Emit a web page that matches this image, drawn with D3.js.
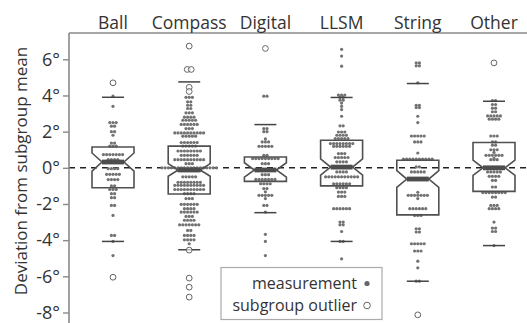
<!DOCTYPE html>
<html>
<head>
<meta charset="utf-8">
<script src="https://cdn.jsdelivr.net/npm/d3@7"></script>
<style>
  body { margin: 0; background: #fff; }
  svg { display: block; font-family: "Open Sans", "DejaVu Sans", sans-serif; }
</style>
</head>
<body>
<svg id="chart" width="527" height="323"></svg>
<script>
// Measurement methods
const categories = ["Ball", "Compass", "Digital", "LLSM", "String", "Other"];

// Deviations from subgroup mean (degrees): [value, number of measurements at that value]
const ballPoints = [[3.96,1],[3.4,1],[2.5,3],[2.3,2],[2.0,2],[1.8,1],[1.37,2],[1.2,3],[0.73,7],[0.45,4],[0.32,6],
  [-0.05,4],[-0.36,5],[-0.65,4],[-1.0,2],[-1.2,3],[-1.43,2],[-1.65,2],[-2.08,2],[-2.63,1],[-3.74,2],[-4.07,1],[-4.85,1]];
const compassPoints = [[3.9,3],[3.65,2],[3.46,2],[3.28,2],[3.04,3],[2.8,4],[2.63,5],[2.4,6],[2.17,3],[1.93,10],[1.75,5],
  [1.4,6],[1.2,5],[0.93,8],[0.69,6],[0.45,10],[0.23,3],[0.0,18],[-0.15,8],[-0.5,5],[-0.8,8],[-0.97,10],[-1.2,10],
  [-1.43,4],[-1.7,3],[-2.02,6],[-2.26,4],[-2.45,6],[-2.69,3],[-2.9,4],[-3.15,7],[-3.46,2],[-3.74,4],[-3.98,4],[-4.2,1]];
const digitalPoints = [[3.96,2],[2.17,2],[2.0,2],[1.6,1],[1.43,3],[1.19,5],[0.69,2],[0.51,9],[0.23,3],[-0.1,6],[-0.38,3],
  [-0.64,7],[-0.88,4],[-1.15,2],[-1.33,1],[-1.52,5],[-1.7,1],[-2.08,2],[-2.45,1],[-3.68,1],[-4.07,1],[-4.85,1]];
const llsmPoints = [[6.55,1],[6.18,1],[5.62,1],[4.02,3],[3.89,2],[3.74,2],[3.58,1],[3.4,1],[3.22,1],[2.85,1],[2.32,2],
  [1.98,3],[1.8,4],[1.62,5],[1.34,8],[1.19,6],[0.79,3],[0.57,5],[0.33,4],[0.05,6],[-0.23,4],[-0.5,11],[-0.88,6],
  [-1.1,4],[-1.34,3],[-1.58,3],[-2.26,6],[-3.0,2],[-3.15,2],[-3.52,1],[-4.07,2],[-5.03,1]];
const stringPoints = [[5.8,2],[5.64,2],[4.7,1],[3.46,2],[3.33,2],[2.85,1],[2.5,1],[1.76,5],[1.43,3],[0.82,1],[0.48,10],
  [0.05,2],[-0.23,5],[-0.62,6],[-1.35,1],[-1.52,7],[-1.7,1],[-2.26,6],[-2.63,3],[-3.37,2],[-3.55,2],[-4.2,5],
  [-4.6,3],[-5.16,1],[-5.53,1],[-6.27,2]];
const otherPoints = [[3.72,2],[3.5,2],[3.3,2],[3.1,2],[2.87,5],[2.69,4],[1.76,3],[1.43,2],[1.25,2],[1.0,3],[0.85,1],
  [0.69,6],[0.52,1],[0.45,3],[0.0,6],[-0.23,5],[-0.47,4],[-0.7,2],[-1.06,2],[-1.37,8],[-1.62,2],[-2.08,3],
  [-2.26,4],[-3.0,1],[-3.33,2],[-3.52,2],[-4.3,1]];
const pointsByCategory = [ballPoints, compassPoints, digitalPoints, llsmPoints, stringPoints, otherPoints];

// Subgroup outliers (degrees)
const ballOutliers = [4.7, -6.05];
const compassOutliers = [6.73, 5.44, 5.44, 4.45, 4.22, -4.55, -6.1, -6.6, -7.15];
const digitalOutliers = [6.6];
const llsmOutliers = [];
const stringOutliers = [-8.13];
const otherOutliers = [5.8];
const outliersByCategory = [ballOutliers, compassOutliers, digitalOutliers, llsmOutliers, stringOutliers, otherOutliers];

// Box statistics (degrees)
const q1 = [-1.1, -1.45, -0.75, -1.0, -2.6, -1.3];
const medians = [0.32, -0.12, -0.12, 0.04, -0.62, 0.0];
const q3 = [1.15, 1.2, 0.6, 1.52, 0.42, 1.4];
const notchHalf = [0.5, 0.35, 0.4, 0.45, 0.46, 0.42];
const whiskerLow = [-4.07, -4.53, -2.48, -4.07, -6.27, -4.3];
const whiskerHigh = [3.9, 4.75, 2.39, 3.89, 4.66, 3.68];

const yTicks = [-8, -6, -4, -2, 0, 2, 4, 6];

const svg = d3.select("#chart");
const W = 527, H = 323;
const plotLeft = 69, plotTop = 33;

const x = d3.scalePoint().domain(categories).range([113, 494]);
const y = d3.scaleLinear().domain([-8, 6]).range([312.5, 59.3]);

const boxHalf = 21, notchNarrow = 11, capHalf = 11;
const dotR = 1.6, dotStep = 3.2;

// Zero reference line
svg.append("line")
  .attr("x1", plotLeft).attr("x2", W)
  .attr("y1", y(0)).attr("y2", y(0))
  .attr("stroke", "#222").attr("stroke-width", 1.6)
  .attr("stroke-dasharray", "6,5");

// Measurements laid out as centred horizontal rows
const dotsG = svg.append("g");
categories.forEach((c, i) => {
  const cx = x(c);
  pointsByCategory[i].forEach(([v, n]) => {
    for (let k = 0; k < n; k++) {
      dotsG.append("circle")
        .attr("cx", cx + (k - (n - 1) / 2) * dotStep)
        .attr("cy", y(v))
        .attr("r", dotR)
        .attr("fill", "#727272");
    }
  });
});

// Notched boxes, medians and whisker caps
const boxG = svg.append("g");
categories.forEach((c, i) => {
  const cx = x(c);
  const yq3 = y(q3[i]), yq1 = y(q1[i]), ym = y(medians[i]);
  const ynh = y(medians[i] + notchHalf[i]), ynl = y(medians[i] - notchHalf[i]);
  const p = d3.path();
  p.moveTo(cx - boxHalf, yq3);
  p.lineTo(cx + boxHalf, yq3);
  p.lineTo(cx + boxHalf, ynh);
  p.lineTo(cx + notchNarrow, ym);
  p.lineTo(cx + boxHalf, ynl);
  p.lineTo(cx + boxHalf, yq1);
  p.lineTo(cx - boxHalf, yq1);
  p.lineTo(cx - boxHalf, ynl);
  p.lineTo(cx - notchNarrow, ym);
  p.lineTo(cx - boxHalf, ynh);
  p.closePath();
  boxG.append("path").attr("d", p.toString())
    .attr("fill", "none").attr("stroke", "#505050").attr("stroke-width", 1.6);
  boxG.append("rect")
    .attr("x", cx - notchNarrow).attr("y", ym - 2.4)
    .attr("width", notchNarrow * 2).attr("height", 4.8)
    .attr("fill", "#4d4d4d");
  [whiskerLow[i], whiskerHigh[i]].forEach(v => {
    boxG.append("line")
      .attr("x1", cx - capHalf).attr("x2", cx + capHalf)
      .attr("y1", y(v)).attr("y2", y(v))
      .attr("stroke", "#444").attr("stroke-width", 1.5);
  });
});

// Subgroup outliers as open circles; equal values are set side by side
const outG = svg.append("g");
categories.forEach((c, i) => {
  const cx = x(c);
  const vals = outliersByCategory[i];
  const counts = d3.rollup(vals, v => v.length, d => d);
  const seen = new Map();
  vals.forEach(v => {
    const n = counts.get(v);
    const k = seen.get(v) || 0;
    seen.set(v, k + 1);
    outG.append("circle")
      .attr("cx", cx + (k - (n - 1) / 2) * 4)
      .attr("cy", y(v))
      .attr("r", 2.9)
      .attr("fill", "#fff").attr("fill-opacity", 0.6)
      .attr("stroke", "#666").attr("stroke-width", 1);
  });
});

// Axis frame
svg.append("line").attr("x1", plotLeft).attr("x2", plotLeft).attr("y1", plotTop).attr("y2", H)
  .attr("stroke", "#8a8a8a").attr("stroke-width", 1.6);
svg.append("line").attr("x1", plotLeft).attr("x2", W).attr("y1", plotTop).attr("y2", plotTop)
  .attr("stroke", "#8a8a8a").attr("stroke-width", 1.6);

// Y axis
const yAxis = d3.axisLeft(y).tickValues(yTicks).tickSize(6).tickPadding(3)
  .tickFormat(d => `${d}°`);
const yg = svg.append("g").attr("transform", `translate(${plotLeft},0)`).call(yAxis);
yg.select(".domain").remove();
yg.selectAll(".tick line").attr("stroke", "#8a8a8a").attr("stroke-width", 1.4);
yg.selectAll(".tick text").attr("fill", "#333").style("font-size", "18px")
  .style("font-family", "'Open Sans', sans-serif");

// Category labels along the top
svg.append("g").selectAll("text").data(categories).join("text")
  .attr("x", d => x(d)).attr("y", 29)
  .attr("text-anchor", "middle")
  .attr("fill", "#333").style("font-size", "17.5px")
  .text(d => d);

// Y axis title
svg.append("text")
  .attr("transform", `translate(27,${171}) rotate(-90)`)
  .attr("text-anchor", "middle")
  .attr("fill", "#333").style("font-size", "17px")
  .text("Deviation from subgroup mean");

// Legend
const lg = svg.append("g");
lg.append("rect").attr("x", 221).attr("y", 267.5).attr("width", 161).attr("height", 52)
  .attr("fill", "#fff").attr("stroke", "#aaa").attr("stroke-width", 1.2);
lg.append("text").attr("x", 357).attr("y", 289).attr("text-anchor", "end")
  .attr("fill", "#333").style("font-size", "16px").text("measurement");
lg.append("circle").attr("cx", 367).attr("cy", 283.5).attr("r", 2.6).attr("fill", "#666");
lg.append("text").attr("x", 357).attr("y", 311).attr("text-anchor", "end")
  .attr("fill", "#333").style("font-size", "16px").text("subgroup outlier");
lg.append("circle").attr("cx", 367).attr("cy", 305.5).attr("r", 3.3)
  .attr("fill", "#fff").attr("stroke", "#666").attr("stroke-width", 1);
</script>
</body>
</html>
